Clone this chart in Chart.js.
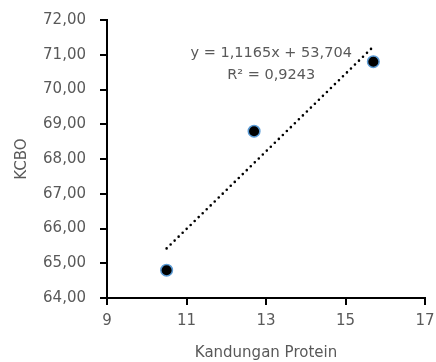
<!DOCTYPE html>
<html>
<head>
<meta charset="utf-8">
<script src="https://cdn.jsdelivr.net/npm/chart.js@4.4.1/dist/chart.umd.min.js"></script>
<style>
  html, body { margin: 0; padding: 0; background: #fff; }
  #wrap { width: 436px; height: 362px; }
</style>
</head>
<body>
<div id="wrap"><canvas id="myChart"></canvas></div>
<script>
// Data dari grafik
const proteinValues = [10.5, 12.7, 15.7];
const kcboValues = [64.8, 68.8, 70.8];
const slope = 1.1165;
const intercept = 53.704;
const equationText = 'y = 1,1165x + 53,704';
const rText = 'R² = 0,9243';

const xMin = 9, xMax = 17, xStep = 2;
const yMin = 64, yMax = 72, yStep = 1;

const grey = '#595959';
const fontFam = '"DejaVu Sans", sans-serif';

const points = proteinValues.map((x, i) => ({ x: x, y: kcboValues[i] }));
const xFirst = Math.min(...proteinValues);
const xLast = Math.max(...proteinValues);
const trend = [
    { x: xFirst, y: slope * xFirst + intercept },
    { x: xLast, y: slope * xLast + intercept }
];

// Tulisan persamaan regresi
const equationPlugin = {
    id: 'equation',
    afterDatasetsDraw(chart) {
        const c = chart.ctx;
        const sx = chart.scales.x;
        const sy = chart.scales.y;
        c.save();
        c.fillStyle = grey;
        c.font = '14.5px ' + fontFam;
        c.textAlign = 'center';
        c.textBaseline = 'middle';
        const cx = sx.getPixelForValue(13.13);
        c.fillText(equationText, cx, sy.getPixelForValue(71.05));
        c.fillText(rText, cx, sy.getPixelForValue(70.42));
        c.restore();
    }
};

const ctx = document.getElementById('myChart').getContext('2d');
let myChart = new Chart(ctx, {
    type: 'scatter',
    data: {
        datasets: [{
            label: 'Tren',
            type: 'line',
            data: trend,
            borderColor: '#000',
            borderWidth: 2.6,
            borderDash: [0, 5.6],
            borderCapStyle: 'round',
            pointRadius: 0,
            fill: false
        }, {
            label: 'KCBO',
            data: points,
            backgroundColor: '#000',
            borderColor: '#5B9BD5',
            borderWidth: 1.5,
            pointRadius: 5.8,
            pointHoverRadius: 5.8
        }]
    },
    options: {
        responsive: true,
        maintainAspectRatio: false,
        animation: false,
        layout: { padding: { top: 20, right: 11, left: 0, bottom: 0 } },
        plugins: {
            legend: { display: false },
            tooltip: { enabled: false }
        },
        scales: {
            x: {
                type: 'linear',
                min: xMin,
                max: xMax,
                afterFit(s) {
                    s.height = 64;
                    s.paddingLeft = 0;
                    s.paddingRight = 0;
                },
                ticks: {
                    stepSize: xStep,
                    color: grey,
                    font: { family: fontFam, size: 15 },
                    padding: 7
                },
                grid: {
                    drawOnChartArea: false,
                    color: '#000',
                    lineWidth: 2,
                    tickLength: 7
                },
                border: { color: '#000', width: 2 },
                title: {
                    display: true,
                    text: 'Kandungan Protein',
                    color: grey,
                    font: { family: fontFam, size: 15 },
                    padding: { top: 4, bottom: 0 }
                }
            },
            y: {
                min: yMin,
                max: yMax,
                afterFit(s) {
                    s.width = 107;
                    s.paddingTop = 0;
                    s.paddingBottom = 0;
                },
                ticks: {
                    stepSize: yStep,
                    color: grey,
                    font: { family: fontFam, size: 15 },
                    padding: 14,
                    callback: v => v.toFixed(2).replace('.', ',')
                },
                grid: {
                    drawOnChartArea: false,
                    color: '#000',
                    lineWidth: 2,
                    tickLength: 7
                },
                border: { color: '#000', width: 2 },
                title: {
                    display: true,
                    text: 'KCBO',
                    color: grey,
                    font: { family: fontFam, size: 15 },
                    padding: { top: 13, bottom: 0 }
                }
            }
        }
    },
    plugins: [equationPlugin]
});
</script>
</body>
</html>
